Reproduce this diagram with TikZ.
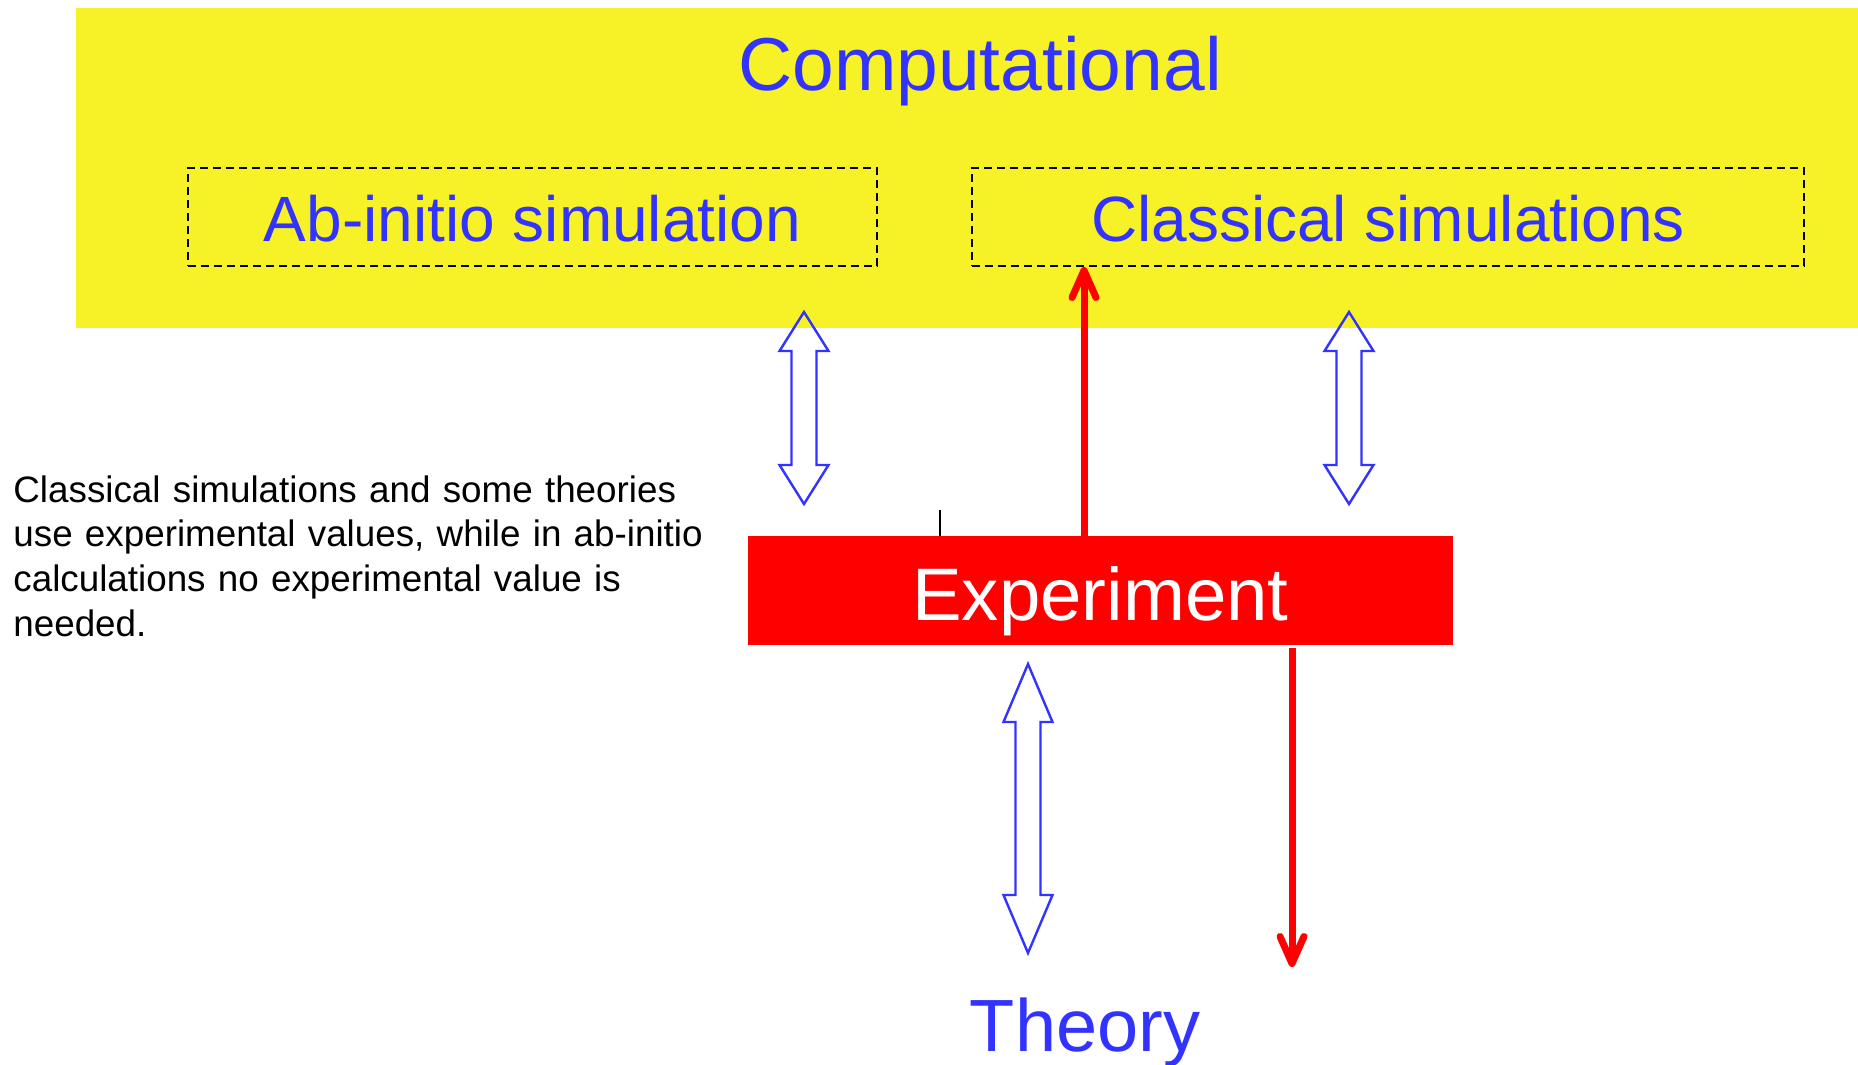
\documentclass[tikz,border=0pt]{standalone}
\usepackage{fontspec}
\setmainfont{Liberation Sans}
\usetikzlibrary{arrows.meta}
\definecolor{compyellow}{RGB}{247,242,40}
\definecolor{txtblue}{RGB}{51,51,255}
\definecolor{expred}{RGB}{255,0,0}
\newcommand{\hollowdbl}[4]{% #1 centre x, #2 top y, #3 bottom y, #4 head length
  \draw[hollowarrow] (#1,#2) -- (#1+24.5,#2+#4) -- (#1+12.5,#2+#4) -- (#1+12.5,#3-#4)
    -- (#1+24.5,#3-#4) -- (#1,#3) -- (#1-24.5,#3-#4) -- (#1-12.5,#3-#4)
    -- (#1-12.5,#2+#4) -- (#1-24.5,#2+#4) -- cycle;}
\begin{document}
\begin{tikzpicture}[x=0.5pt,y=-0.5pt,
  compbox/.style={fill=compyellow, draw=none, minimum width=891pt, minimum height=160pt, inner sep=0pt},
  simbox/.style={draw=black, line width=1pt, dash pattern=on 4pt off 2.5pt,
    minimum height=49pt, inner sep=0pt, text=txtblue,
    font=\fontsize{32}{38}\selectfont, text height=25pt, text depth=0pt},
  expbox/.style={fill=expred, draw=none, minimum width=352.5pt, minimum height=54.5pt,
    inner sep=0pt, text=white, font=\fontsize{37.2}{44}\selectfont,
    text height=29.5pt, text depth=0pt},
  bigtitle/.style={inner sep=0pt, anchor=base, text=txtblue},
  note/.style={inner sep=0pt, anchor=base west, text=black, text width=360pt, align=left,
    font=\fontsize{18.4}{22.4}\selectfont},
  hollowarrow/.style={draw=txtblue, line width=1.2pt, line join=miter},
  redarrow/.style={draw=expred, line width=3.5pt, line cap=butt,
    -{Straight Barb[length=13.5pt, width=12pt, round]}},
  tick/.style={draw=black, line width=1.4pt}
]
\useasboundingbox (0,0) rectangle (1858,1065);
\fill[white] (0,0) rectangle (1858,1065);

% computational area
\node[compbox] (comp) at (967,168) {};
\node[bigtitle, font=\fontsize{37.5}{45}\selectfont] (comptitle) at (980,91) {Computational};
\node[simbox, minimum width=344.5pt] (abbox) at (532.5,217) {Ab-initio simulation};
\node[simbox, minimum width=416pt] (clbox) at (1388,217) {Classical simulations};

% experiment
\node[expbox] (expbox) at (1100.5,590.5) {Experiment};

% theory
\node[bigtitle, font=\fontsize{37}{44}\selectfont] (theory) at (1085,1051) {Theory};

% note
\node[note] (note) at (13,502) {Classical simulations and some theories\\
use experimental values, while in ab-initio\\
calculations no experimental value is\\
needed.};

% hollow double arrows
\hollowdbl{804}{312}{504}{39}
\hollowdbl{1349}{312}{504}{39}
\hollowdbl{1028}{664}{953}{58}

% red arrows
\coordinate (upx) at (1084,0);
\coordinate (downend) at (1292,967);
\draw[redarrow] (expbox.north -| upx) -- (clbox.south -| upx);
\draw[redarrow] ([yshift=-1.5pt]expbox.south -| downend) -- (downend);

% small tick
\coordinate (ticktop) at (940,510);
\draw[tick] (ticktop) -- (expbox.north -| ticktop);
\end{tikzpicture}
\end{document}
